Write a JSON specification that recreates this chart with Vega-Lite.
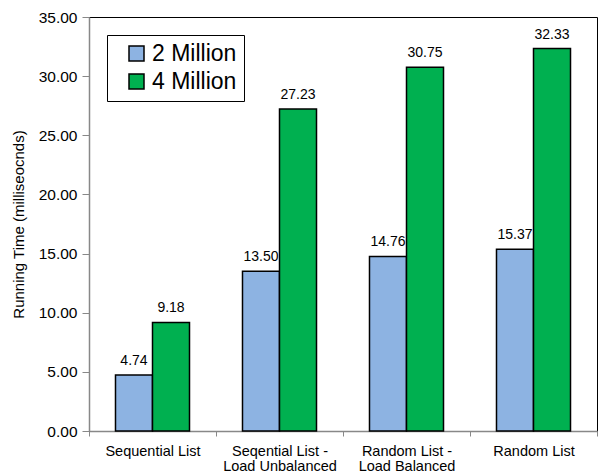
{
  "$schema": "https://vega.github.io/schema/vega-lite/v6.json",
  "width": 508,
  "height": 414,
  "autosize": {"type": "none"},
  "padding": {"left": 89, "top": 17, "right": 1, "bottom": 43},
  "background": "white",
  "config": {
    "font": "Liberation Sans",
    "view": {"stroke": "#000", "strokeWidth": 1},
    "axis": {"grid": false, "domainColor": "#888", "domainWidth": 1.5, "tickColor": "#888", "labelColor": "#000", "titleColor": "#000", "labelFont": "Liberation Sans", "titleFont": "Liberation Sans", "titleFontWeight": "normal"}
  },
  "data": {
    "values": [
      {"cat": "Sequential List", "series": "2 Million", "v": 4.74},
      {"cat": "Sequential List", "series": "4 Million", "v": 9.18},
      {"cat": "Seqential List - Load Unbalanced", "series": "2 Million", "v": 13.50},
      {"cat": "Seqential List - Load Unbalanced", "series": "4 Million", "v": 27.23},
      {"cat": "Random List - Load Balanced", "series": "2 Million", "v": 14.76},
      {"cat": "Random List - Load Balanced", "series": "4 Million", "v": 30.75},
      {"cat": "Random List", "series": "2 Million", "v": 15.37},
      {"cat": "Random List", "series": "4 Million", "v": 32.33}
    ]
  },
  "encoding": {
    "x": {
      "field": "cat", "type": "nominal", "sort": null,
      "scale": {"paddingInner": 0, "paddingOuter": 0},
      "axis": {"title": null, "labelAngle": 0, "labelFontSize": 14.5, "tickSize": 5, "tickBand": "extent", "labelPadding": 8, "labelLineHeight": 15,
               "labelExpr": "split(replace(datum.label, ' - ', ' -|'), '|')"}
    },
    "xOffset": {"field": "series", "type": "nominal", "scale": {"paddingInner": 0, "paddingOuter": 0.716}},
    "y": {
      "field": "v", "type": "quantitative",
      "scale": {"domain": [0, 35], "nice": false},
      "axis": {"title": "Running Time (milliseocnds)", "titleFontSize": 15, "titlePadding": 12, "labelFontSize": 15.5, "format": ".2f", "values": [0,5,10,15,20,25,30,35], "labelOverlap": false, "labelBound": false, "tickSize": 7, "labelPadding": 5}
    }
  },
  "layer": [
    {
      "mark": {"type": "bar", "stroke": "#000", "strokeWidth": 1.5},
      "encoding": {
        "color": {
          "field": "series", "type": "nominal",
          "scale": {"domain": ["2 Million", "4 Million"], "range": ["#8DB3E2", "#00B050"]},
          "legend": {"title": null, "orient": "none", "legendX": 18, "legendY": 18, "labelFontSize": 23, "symbolType": "square", "symbolSize": 225, "symbolStrokeColor": "#000", "symbolStrokeWidth": 1.5, "strokeColor": "#000", "padding": 7, "symbolOffset": 11, "rowPadding": 4, "labelOffset": 4, "fillColor": "white", "labelLimit": 300, "labelExpr": "datum.label + '  '"}
        }
      }
    },
    {
      "mark": {"type": "text", "baseline": "alphabetic", "dy": -10, "fontSize": 14, "color": "#000"},
      "encoding": {"text": {"field": "v", "type": "quantitative", "format": ".2f"}}
    }
  ]
}
